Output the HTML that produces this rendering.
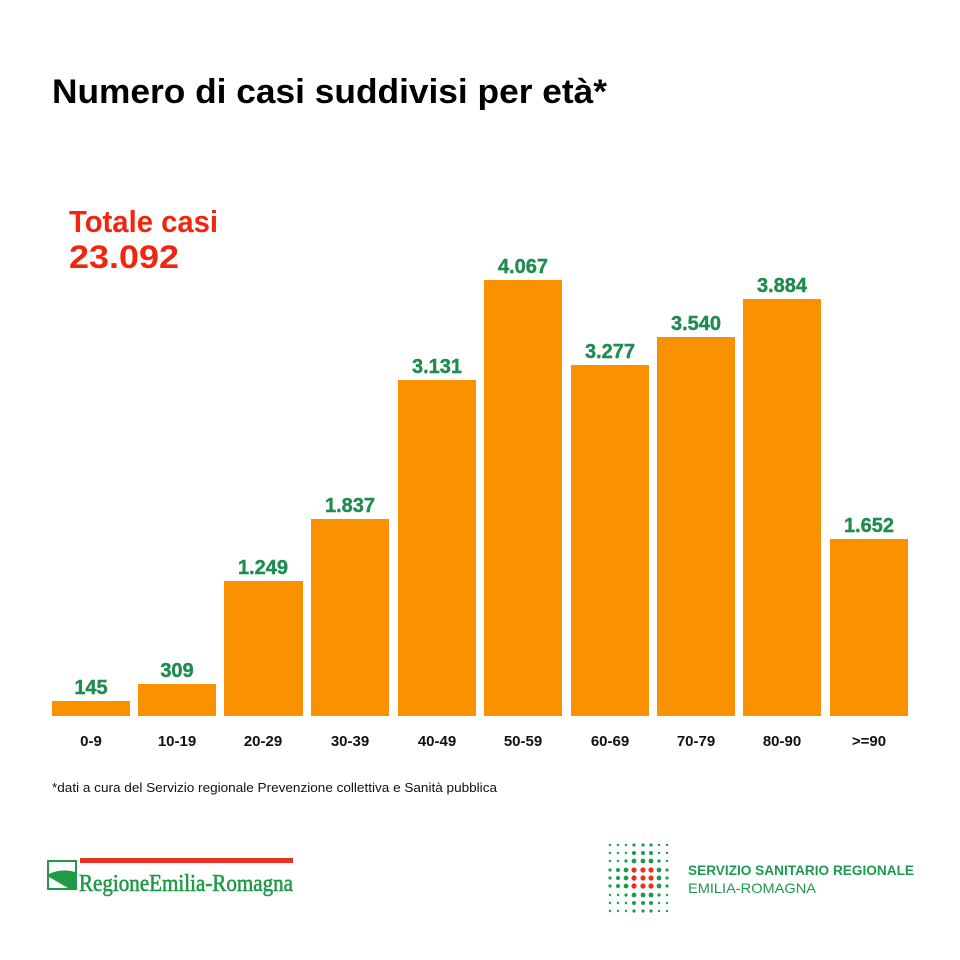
<!DOCTYPE html>
<html><head><meta charset="utf-8"><style>html,body{margin:0;padding:0;background:#fff}svg{display:block}</style></head>
<body>
<svg width="960" height="960" viewBox="0 0 960 960" xmlns="http://www.w3.org/2000/svg" font-family="Liberation Sans, sans-serif">
<rect width="960" height="960" fill="#fff"/>
<text x="52" y="103" font-size="34" font-weight="bold" fill="#000" textLength="555" lengthAdjust="spacingAndGlyphs">Numero di casi suddivisi per età*</text>
<text x="69" y="232" font-size="31" font-weight="bold" fill="#f0260e" textLength="149" lengthAdjust="spacingAndGlyphs">Totale casi</text>
<text x="69" y="268" font-size="32" font-weight="bold" fill="#f0260e" textLength="110" lengthAdjust="spacingAndGlyphs">23.092</text>
<g fill="#fa9100">
<rect x="52" y="701" width="78" height="15"/>
<rect x="138" y="684" width="78" height="32"/>
<rect x="224" y="581" width="79" height="135"/>
<rect x="311" y="519" width="78" height="197"/>
<rect x="398" y="380" width="78" height="336"/>
<rect x="484" y="280" width="78" height="436"/>
<rect x="571" y="365" width="78" height="351"/>
<rect x="657" y="337" width="78" height="379"/>
<rect x="743" y="299" width="78" height="417"/>
<rect x="830" y="539" width="78" height="177"/>
</g>
<g font-size="20" font-weight="bold" fill="#1e8c4e" text-anchor="middle" stroke="#1e8c4e" stroke-width="0.4">
<text x="91" y="694">145</text>
<text x="177" y="677">309</text>
<text x="263" y="574">1.249</text>
<text x="350" y="512">1.837</text>
<text x="437" y="373">3.131</text>
<text x="523" y="273">4.067</text>
<text x="610" y="358">3.277</text>
<text x="696" y="330">3.540</text>
<text x="782" y="292">3.884</text>
<text x="869" y="532">1.652</text>
</g>
<g font-size="15" font-weight="bold" fill="#111" text-anchor="middle">
<text x="91" y="746">0-9</text>
<text x="177" y="746">10-19</text>
<text x="263" y="746">20-29</text>
<text x="350" y="746">30-39</text>
<text x="437" y="746">40-49</text>
<text x="523" y="746">50-59</text>
<text x="610" y="746">60-69</text>
<text x="696" y="746">70-79</text>
<text x="782" y="746">80-90</text>
<text x="869" y="746">&gt;=90</text>
</g>
<text x="52" y="792" font-size="13" fill="#111" textLength="445" lengthAdjust="spacingAndGlyphs">*dati a cura del Servizio regionale Prevenzione collettiva e Sanità pubblica</text>
<!-- Regione logo -->
<rect x="80" y="858" width="213" height="5" fill="#e63320"/>
<rect x="47" y="860" width="30" height="30" fill="#1f9a48"/>
<path d="M49 862 H75 V872 Q62 868 49 874 Z" fill="#fff"/>
<path d="M49 877 L68 888 H49 Z" fill="#fff"/>
<text x="79" y="891" font-family="Liberation Serif, serif" font-size="24" fill="#1f9a48" stroke="#1f9a48" stroke-width="0.6" textLength="214" lengthAdjust="spacingAndGlyphs">RegioneEmilia-Romagna</text>
<text x="688" y="875" font-size="14" font-weight="bold" fill="#1e9a50" textLength="226" lengthAdjust="spacingAndGlyphs">SERVIZIO SANITARIO REGIONALE</text>
<text x="688" y="893" font-size="14" fill="#1e9a50" textLength="128" lengthAdjust="spacingAndGlyphs">EMILIA-ROMAGNA</text>
<g>
<circle cx="610" cy="845" r="1.2" fill="#1e9a50"/><circle cx="618" cy="845" r="1.2" fill="#1e9a50"/><circle cx="626" cy="845" r="1.2" fill="#1e9a50"/><circle cx="634" cy="845" r="1.6" fill="#1e9a50"/><circle cx="643" cy="845" r="1.6" fill="#1e9a50"/><circle cx="651" cy="845" r="1.6" fill="#1e9a50"/><circle cx="659" cy="845" r="1.2" fill="#1e9a50"/><circle cx="667" cy="845" r="1.2" fill="#1e9a50"/>
<circle cx="610" cy="853" r="1.2" fill="#1e9a50"/><circle cx="618" cy="853" r="1.2" fill="#1e9a50"/><circle cx="626" cy="853" r="1.2" fill="#1e9a50"/><circle cx="634" cy="853" r="2" fill="#1e9a50"/><circle cx="643" cy="853" r="2" fill="#1e9a50"/><circle cx="651" cy="853" r="2" fill="#1e9a50"/><circle cx="659" cy="853" r="1.2" fill="#1e9a50"/><circle cx="667" cy="853" r="1.2" fill="#1e9a50"/>
<circle cx="610" cy="861" r="1.2" fill="#1e9a50"/><circle cx="618" cy="861" r="1.2" fill="#1e9a50"/><circle cx="626" cy="861" r="1.6" fill="#1e9a50"/><circle cx="634" cy="861" r="2.4" fill="#1e9a50"/><circle cx="643" cy="861" r="2.4" fill="#1e9a50"/><circle cx="651" cy="861" r="2.4" fill="#1e9a50"/><circle cx="659" cy="861" r="1.6" fill="#1e9a50"/><circle cx="667" cy="861" r="1.2" fill="#1e9a50"/>
<circle cx="610" cy="870" r="1.6" fill="#1e9a50"/><circle cx="618" cy="870" r="2" fill="#1e9a50"/><circle cx="626" cy="870" r="2.4" fill="#1e9a50"/><circle cx="634" cy="870" r="2.6" fill="#e8301c"/><circle cx="643" cy="870" r="2.6" fill="#e8301c"/><circle cx="651" cy="870" r="2.6" fill="#e8301c"/><circle cx="659" cy="870" r="2.4" fill="#1e9a50"/><circle cx="667" cy="870" r="1.6" fill="#1e9a50"/>
<circle cx="610" cy="878" r="1.6" fill="#1e9a50"/><circle cx="618" cy="878" r="2" fill="#1e9a50"/><circle cx="626" cy="878" r="2.4" fill="#1e9a50"/><circle cx="634" cy="878" r="2.6" fill="#e8301c"/><circle cx="643" cy="878" r="2.6" fill="#e8301c"/><circle cx="651" cy="878" r="2.6" fill="#e8301c"/><circle cx="659" cy="878" r="2.4" fill="#1e9a50"/><circle cx="667" cy="878" r="1.6" fill="#1e9a50"/>
<circle cx="610" cy="886" r="1.6" fill="#1e9a50"/><circle cx="618" cy="886" r="2" fill="#1e9a50"/><circle cx="626" cy="886" r="2.4" fill="#1e9a50"/><circle cx="634" cy="886" r="2.6" fill="#e8301c"/><circle cx="643" cy="886" r="2.6" fill="#e8301c"/><circle cx="651" cy="886" r="2.6" fill="#e8301c"/><circle cx="659" cy="886" r="2.4" fill="#1e9a50"/><circle cx="667" cy="886" r="1.6" fill="#1e9a50"/>
<circle cx="610" cy="895" r="1.2" fill="#1e9a50"/><circle cx="618" cy="895" r="1.2" fill="#1e9a50"/><circle cx="626" cy="895" r="1.6" fill="#1e9a50"/><circle cx="634" cy="895" r="2.4" fill="#1e9a50"/><circle cx="643" cy="895" r="2.4" fill="#1e9a50"/><circle cx="651" cy="895" r="2.4" fill="#1e9a50"/><circle cx="659" cy="895" r="1.6" fill="#1e9a50"/><circle cx="667" cy="895" r="1.2" fill="#1e9a50"/>
<circle cx="610" cy="903" r="1.2" fill="#1e9a50"/><circle cx="618" cy="903" r="1.2" fill="#1e9a50"/><circle cx="626" cy="903" r="1.2" fill="#1e9a50"/><circle cx="634" cy="903" r="2" fill="#1e9a50"/><circle cx="643" cy="903" r="2" fill="#1e9a50"/><circle cx="651" cy="903" r="2" fill="#1e9a50"/><circle cx="659" cy="903" r="1.2" fill="#1e9a50"/><circle cx="667" cy="903" r="1.2" fill="#1e9a50"/>
<circle cx="610" cy="911" r="1.2" fill="#1e9a50"/><circle cx="618" cy="911" r="1.2" fill="#1e9a50"/><circle cx="626" cy="911" r="1.2" fill="#1e9a50"/><circle cx="634" cy="911" r="1.6" fill="#1e9a50"/><circle cx="643" cy="911" r="1.6" fill="#1e9a50"/><circle cx="651" cy="911" r="1.6" fill="#1e9a50"/><circle cx="659" cy="911" r="1.2" fill="#1e9a50"/><circle cx="667" cy="911" r="1.2" fill="#1e9a50"/>
</g>
</svg>
</body></html>
